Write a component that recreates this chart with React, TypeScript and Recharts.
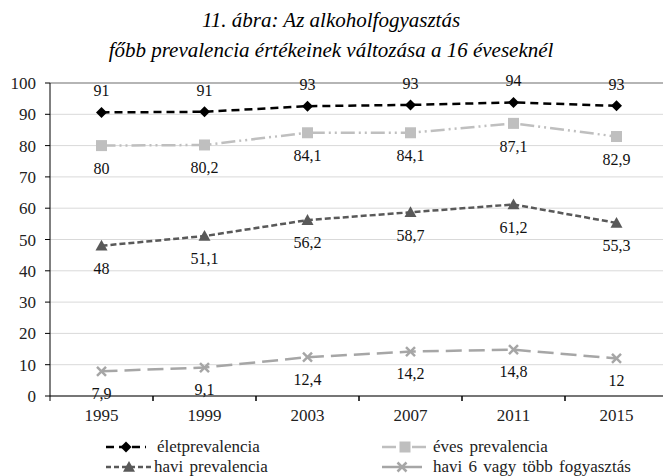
import React from "react";
import {
    LineChart,
    Line,
    XAxis,
    YAxis,
    CartesianGrid,
    LabelList,
    ReferenceLine,
} from "recharts";

const years: string[] = ["1995", "1999", "2003", "2007", "2011", "2015"];
const eletValues: number[] = [90.6, 90.8, 92.6, 93.0, 93.8, 92.7];
const eletLabels: string[] = ["91", "91", "93", "93", "94", "93"];
const evesValues: number[] = [80, 80.2, 84.1, 84.1, 87.1, 82.9];
const haviValues: number[] = [48, 51.1, 56.2, 58.7, 61.2, 55.3];
const havi6Values: number[] = [7.9, 9.1, 12.4, 14.2, 14.8, 12];
const yTicks: number[] = [0, 10, 20, 30, 40, 50, 60, 70, 80, 90, 100];

const titleLines: string[] = [
    "11. ábra: Az alkoholfogyasztás",
    "főbb prevalencia értékeinek változása a 16 éveseknél",
];
const seriesNames: string[] = [
    "életprevalencia",
    "éves prevalencia",
    "havi prevalencia",
    "havi 6 vagy több fogyasztás",
];

const data = years.map((year, i) => ({
    year,
    elet: eletValues[i],
    eletLabel: eletLabels[i],
    eves: evesValues[i],
    havi: haviValues[i],
    havi6: havi6Values[i],
}));

const CHART_W = 680;
const CHART_H = 476;
const M = { top: 83, right: 12, left: 0, bottom: 50 };
const Y_AXIS_W = 50;
const X_AXIS_H = 30;
const PLOT_W = CHART_W - M.right - M.left - Y_AXIS_W;
const BAND = PLOT_W / years.length;
const AXIS_Y = CHART_H - M.bottom - X_AXIS_H;

const SERIF = "Liberation Serif, Times New Roman, serif";

const C_ELET = "#000000";
const C_EVES = "#BFBFBF";
const C_HAVI = "#595959";
const C_HAVI6 = "#A6A6A6";

const D_ELET = "8 5";
const D_EVES = "14 4 2 4 2 4";
const D_HAVI = "6 3";
const D_HAVI6 = "16 7";

type MarkerKind = "diamond" | "square" | "triangle" | "cross";

const Marker = ({ kind, cx, cy }: { kind: MarkerKind; cx: number; cy: number }) => {
    if (kind === "diamond") {
        const r = 5.5;
        return <polygon points={`${cx},${cy - r} ${cx + r},${cy} ${cx},${cy + r} ${cx - r},${cy}`} fill={C_ELET} />;
    }
    if (kind === "square") {
        const r = 5.5;
        return <rect x={cx - r} y={cy - r} width={2 * r} height={2 * r} fill={C_EVES} />;
    }
    if (kind === "triangle") {
        const r = 6;
        return <polygon points={`${cx},${cy - r} ${cx + r},${cy + r * 0.8} ${cx - r},${cy + r * 0.8}`} fill={C_HAVI} />;
    }
    const r = 4.5;
    return (
        <g stroke={C_HAVI6} strokeWidth={2.5}>
            <line x1={cx - r} y1={cy - r} x2={cx + r} y2={cy + r} />
            <line x1={cx - r} y1={cy + r} x2={cx + r} y2={cy - r} />
        </g>
    );
};

const makeDot = (kind: MarkerKind) => (props: any) => {
    const { cx, cy, index } = props;
    if (cx == null || cy == null) return <g key={`${kind}-${index}`} />;
    return (
        <g key={`${kind}-${index}`}>
            <Marker kind={kind} cx={cx} cy={cy} />
        </g>
    );
};

const fmt = (v: any) => String(v).replace(".", ",");

const XTick = (props: any) => {
    const { x, payload } = props;
    const bx = x - BAND / 2;
    return (
        <g>
            <line x1={bx} x2={bx} y1={AXIS_Y} y2={AXIS_Y + 5} stroke="#000" />
            <line x1={bx + BAND} x2={bx + BAND} y1={AXIS_Y} y2={AXIS_Y + 5} stroke="#000" />
            <text x={x} y={AXIS_Y + 25} textAnchor="middle" style={{ fontFamily: SERIF, fontSize: 17 }} fill="#222">
                {payload.value}
            </text>
        </g>
    );
};

const labelStyle = { fontFamily: SERIF, fontSize: 16, fill: "#111" };

const legendItems = [
    { name: seriesNames[0], kind: "diamond" as MarkerKind, color: C_ELET, dash: D_ELET, x0: 106, x1: 146, tx: 157, y: 447 },
    { name: seriesNames[1], kind: "square" as MarkerKind, color: C_EVES, dash: D_EVES, x0: 382, x1: 428, tx: 433, y: 447 },
    { name: seriesNames[2], kind: "triangle" as MarkerKind, color: C_HAVI, dash: "5 3", x0: 106, x1: 152, tx: 154, y: 467 },
    { name: seriesNames[3], kind: "cross" as MarkerKind, color: C_HAVI6, dash: "none", x0: 382, x1: 422, tx: 433, y: 467 },
];

export default function App(): React.ReactElement {
    return (
        <div style={{ position: "absolute", left: 0, top: 0, width: 663, height: 476, overflow: "hidden", background: "#fff" }}>
            <LineChart width={CHART_W} height={CHART_H} data={data} margin={M}>
                <CartesianGrid vertical={false} stroke="#D9D9D9" />
                <ReferenceLine y={100} stroke="#7F7F7F" />
                <XAxis
                    dataKey="year"
                    height={X_AXIS_H}
                    padding={{ left: BAND / 2, right: BAND / 2 }}
                    axisLine={{ stroke: "#000" }}
                    tickLine={false}
                    tick={<XTick />}
                    interval={0}
                />
                <YAxis
                    width={Y_AXIS_W}
                    domain={[0, 100]}
                    ticks={yTicks}
                    axisLine={{ stroke: "#000" }}
                    tickLine={{ stroke: "#000" }}
                    tickSize={5}
                    tickMargin={9}
                    tick={{ fontFamily: SERIF, fontSize: 17, fill: "#222" }}
                />
                <Line
                    dataKey="elet"
                    stroke={C_ELET}
                    strokeWidth={2.5}
                    strokeDasharray={D_ELET}
                    dot={makeDot("diamond")}
                    isAnimationActive={false}
                >
                    <LabelList dataKey="eletLabel" position="top" offset={16} style={labelStyle} />
                </Line>
                <Line
                    dataKey="eves"
                    stroke={C_EVES}
                    strokeWidth={2.5}
                    strokeDasharray={D_EVES}
                    dot={makeDot("square")}
                    isAnimationActive={false}
                >
                    <LabelList dataKey="eves" position="bottom" offset={17} formatter={fmt} style={labelStyle} />
                </Line>
                <Line
                    dataKey="havi"
                    stroke={C_HAVI}
                    strokeWidth={2.5}
                    strokeDasharray={D_HAVI}
                    dot={makeDot("triangle")}
                    isAnimationActive={false}
                >
                    <LabelList dataKey="havi" position="bottom" offset={17} formatter={fmt} style={labelStyle} />
                </Line>
                <Line
                    dataKey="havi6"
                    stroke={C_HAVI6}
                    strokeWidth={2.5}
                    strokeDasharray={D_HAVI6}
                    dot={makeDot("cross")}
                    isAnimationActive={false}
                >
                    <LabelList dataKey="havi6" position="bottom" offset={16} formatter={fmt} style={labelStyle} />
                </Line>
            </LineChart>
            <svg width={663} height={476} style={{ position: "absolute", left: 0, top: 0, pointerEvents: "none" }}>
                <text x={331} y={27} textAnchor="middle" style={{ fontFamily: SERIF, fontStyle: "italic", fontSize: 21 }} fill="#000">
                    {titleLines[0]}
                </text>
                <text x={331} y={57} textAnchor="middle" style={{ fontFamily: SERIF, fontStyle: "italic", fontSize: 21 }} fill="#000">
                    {titleLines[1]}
                </text>
                {legendItems.map((it) => (
                    <g key={it.name}>
                        <line x1={it.x0} x2={it.x1} y1={it.y} y2={it.y} stroke={it.color} strokeWidth={2.5} strokeDasharray={it.dash} />
                        <Marker kind={it.kind} cx={(it.x0 + it.x1) / 2} cy={it.y} />
                        <text x={it.tx} y={it.y + 5} style={{ fontFamily: SERIF, fontSize: 17, wordSpacing: 2 }} fill="#222">
                            {it.name}
                        </text>
                    </g>
                ))}
            </svg>
        </div>
    );
}
